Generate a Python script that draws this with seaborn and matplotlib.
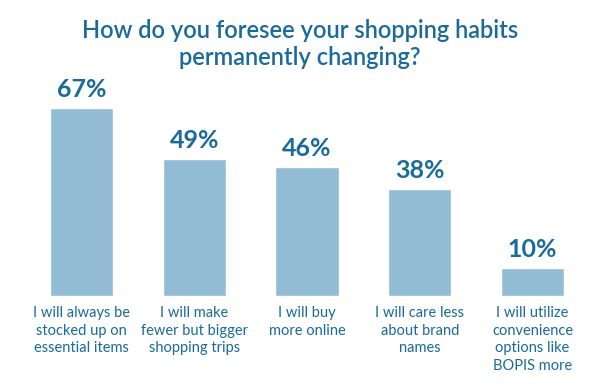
import matplotlib
matplotlib.use("Agg")
import matplotlib.pyplot as plt
import seaborn as sns
import pandas as pd

categories = [
    "I will always be\nstocked up on\nessential items",
    "I will make\nfewer but bigger\nshopping trips",
    "I will buy\nmore online",
    "I will care less\nabout brand\nnames",
    "I will utilize\nconvenience\noptions like\nBOPIS more",
]
values = [67, 49, 46, 38, 10]
title = "How do you foresee your shopping habits\npermanently changing?"

bar_color = "#93bdd5"
text_color = "#1a6a9a"

sns.set_theme(style="white")
plt.rcParams["font.family"] = ["Lato", "DejaVu Sans"]

df = pd.DataFrame({"cat": categories, "val": values})

fig = plt.figure(figsize=(6, 3.9), dpi=100)
ax = fig.add_axes([25/600, 1 - 296/390, 564/600, (296 - 108)/390])
sns.barplot(data=df, x="cat", y="val", color=bar_color, width=0.56,
            saturation=1, ax=ax)
ax.set_ylim(0, 67)
ax.set_xlim(-0.5, 4.5)
for c in ax.containers:
    ax.bar_label(c, labels=[f"{v}%" for v in values], padding=5,
                 fontsize=18, fontweight="bold", color=text_color)
ax.set_xlabel("")
ax.set_ylabel("")
ax.set_yticks([])
ax.tick_params(axis="x", length=0, pad=7)
ax.set_xticks(range(len(categories)))
ax.set_xticklabels(categories, fontsize=10.5, color=text_color,
                   linespacing=1.35, va="top")
for s in ax.spines.values():
    s.set_visible(False)
fig.text(0.5, 1 - 44/390, title, ha="center", va="center", fontsize=17,
         fontweight="semibold", color=text_color, linespacing=1.25)
fig.savefig("out.png", dpi=100)
